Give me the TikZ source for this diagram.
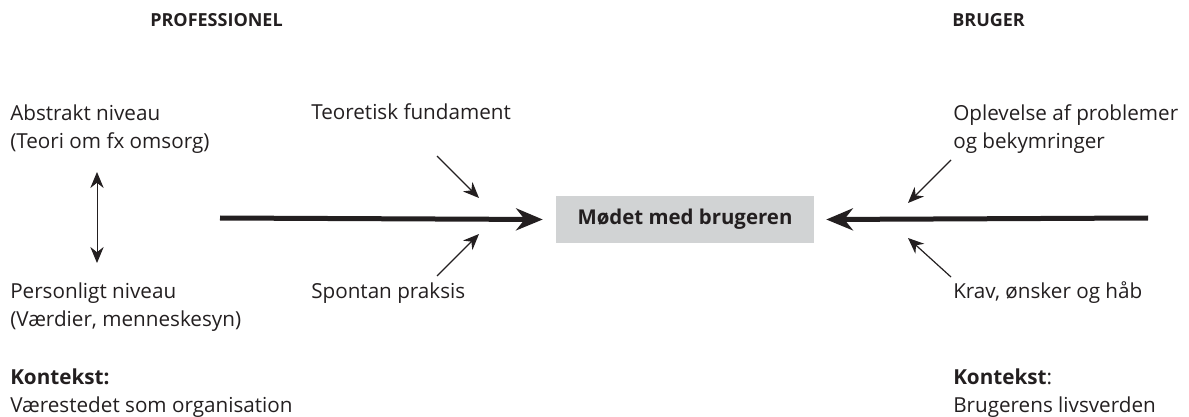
\documentclass[tikz,border=0pt]{standalone}
\usepackage{fontspec}
\setmainfont{Open Sans}
\usetikzlibrary{arrows.meta,positioning}

\definecolor{ink}{HTML}{231F20}
\definecolor{boxgray}{HTML}{D1D3D4}

\begin{document}
\begin{tikzpicture}[%
x=0.75pt,
y=-0.75pt,
>={Stealth[length=12pt,width=10pt]},
every node/.style={text=ink, inner sep=0pt},
txt/.style={anchor=base west, align=left, font=\fontsize{15.5}{21}\selectfont},
head/.style={anchor=base west, font=\fontsize{13.5}{15}\selectfont\bfseries},
meetbox/.style={fill=boxgray, minimum width=193.5pt, minimum height=35pt,
  font=\fontsize{15.3}{17}\selectfont\bfseries},
bigarrow/.style={draw=ink, line width=3.75pt, -{Stealth[length=20pt,width=16.5pt]}},
smallarrow/.style={draw=ink, line width=0.9pt, ->}
]
\useasboundingbox (0,0) rectangle (1189,417);

% headings
\node[head] (prof) at (150,27) {PROFESSIONEL};
\node[head] (brug) at (952,27) {BRUGER};

% left side (base = last line)
\node[txt] (abstrakt) at (10,149) {Abstrakt niveau\\(Teori om fx omsorg)};
\node[txt] (personlig) at (10,326) {Personligt niveau\\(Værdier, menneskesyn)};
\node[txt] (teori) at (311,120) {Teoretisk fundament};
\node[txt] (spontan) at (311,298) {Spontan praksis};
\node[txt] (ctxl) at (10,412) {\textbf{Kontekst:}\\Værestedet som organisation};

% right side
\node[txt] (oplev) at (953,149) {Oplevelse af problemer\\og bekymringer};
\node[txt] (krav) at (953,298) {Krav, ønsker og håb};
\node[txt] (ctxr) at (953,412) {\textbf{Kontekst}:\\Brugerens livsverden};

% the meeting
\node[meetbox] (meet) at (685,219.5) {Mødet med brugeren};

\coordinate (lstart) at (220,218);
\coordinate (rstart) at (1148,218);
\coordinate[left=9.75pt of meet.west] (ltip);
\coordinate[right=9pt of meet.east] (rtip);

\path (lstart) edge[bigarrow] (ltip);
\path (rstart) edge[bigarrow] (rtip);

% pushing arrows
\coordinate (tl1) at (437,156);
\coordinate (tl2) at (479,198);
\coordinate (bl1) at (437,276);
\coordinate (bl2) at (479,234);
\coordinate (tr1) at (951,160);
\coordinate (tr2) at (908,203);
\coordinate (br1) at (951,277);
\coordinate (br2) at (908,238);

\path (tl1) edge[smallarrow] (tl2);
\path (bl1) edge[smallarrow] (bl2);
\path (tr1) edge[smallarrow] (tr2);
\path (br1) edge[smallarrow] (br2);

% abstract <-> personal
\coordinate (vtop) at (97,172);
\coordinate (vbot) at (97,263);
\path (vtop) edge[draw=ink, line width=0.75pt, <->] (vbot);
\end{tikzpicture}
\end{document}
